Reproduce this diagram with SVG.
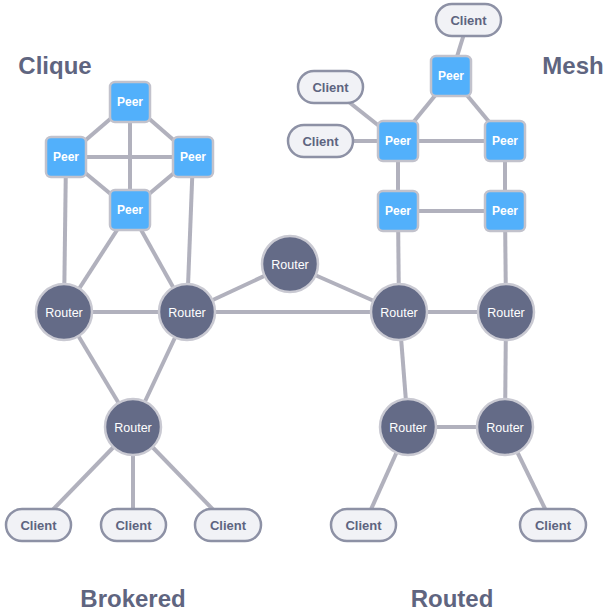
<svg xmlns="http://www.w3.org/2000/svg" width="605" height="613" viewBox="0 0 605 613">
<style>
.e{stroke:#b1b1bd;stroke-width:4;fill:none}
.peer rect{fill:#52b0fb;stroke:#c2c2cc;stroke-width:2.5}
.peer text{fill:#fff;font:bold 12px "Liberation Sans",Arial,sans-serif;text-anchor:middle}
.router circle{fill:#646b87;stroke:#c9c9d2;stroke-width:2.5}
.router text{fill:#fff;font:12.5px "Liberation Sans",Arial,sans-serif;text-anchor:middle}
.client rect{fill:#f1f2f6;stroke:#8d91a5;stroke-width:2.5}
.client text{fill:#5d6480;font:bold 13px "Liberation Sans",Arial,sans-serif;text-anchor:middle}
.title{fill:#5f6580;font:bold 24px "Liberation Sans",Arial,sans-serif;text-anchor:middle}
</style>
<rect width="605" height="613" fill="#fff"/>
<g id="connectors">
<line class="e" x1="130" y1="102" x2="66" y2="157"/>
<line class="e" x1="130" y1="102" x2="193" y2="157"/>
<line class="e" x1="130" y1="102" x2="130" y2="210"/>
<line class="e" x1="66" y1="157" x2="193" y2="157"/>
<line class="e" x1="66" y1="157" x2="130" y2="210"/>
<line class="e" x1="193" y1="157" x2="130" y2="210"/>
<line class="e" x1="66" y1="157" x2="64" y2="312"/>
<line class="e" x1="193" y1="157" x2="187" y2="312"/>
<line class="e" x1="130" y1="210" x2="64" y2="312"/>
<line class="e" x1="130" y1="210" x2="187" y2="312"/>
<line class="e" x1="64" y1="312" x2="187" y2="312"/>
<line class="e" x1="64" y1="312" x2="133" y2="427"/>
<line class="e" x1="187" y1="312" x2="133" y2="427"/>
<line class="e" x1="187" y1="312" x2="290" y2="264"/>
<line class="e" x1="187" y1="312" x2="399" y2="312"/>
<line class="e" x1="290" y1="264" x2="399" y2="312"/>
<line class="e" x1="133" y1="427" x2="38" y2="525"/>
<line class="e" x1="133" y1="427" x2="133" y2="525"/>
<line class="e" x1="133" y1="427" x2="228" y2="525"/>
<line class="e" x1="399" y1="312" x2="506" y2="312"/>
<line class="e" x1="399" y1="312" x2="398" y2="211"/>
<line class="e" x1="506" y1="312" x2="505" y2="211"/>
<line class="e" x1="399" y1="312" x2="408" y2="427"/>
<line class="e" x1="506" y1="312" x2="505" y2="427"/>
<line class="e" x1="408" y1="427" x2="505" y2="427"/>
<line class="e" x1="408" y1="427" x2="364" y2="525"/>
<line class="e" x1="505" y1="427" x2="553" y2="525"/>
<line class="e" x1="468" y1="21" x2="451" y2="76"/>
<line class="e" x1="451" y1="76" x2="398" y2="141"/>
<line class="e" x1="451" y1="76" x2="505" y2="141"/>
<line class="e" x1="398" y1="141" x2="505" y2="141"/>
<line class="e" x1="398" y1="141" x2="398" y2="211"/>
<line class="e" x1="505" y1="141" x2="505" y2="211"/>
<line class="e" x1="398" y1="211" x2="505" y2="211"/>
<line class="e" x1="398" y1="141" x2="330" y2="87"/>
<line class="e" x1="398" y1="141" x2="320" y2="141"/>
</g>
<g id="peer-c-top" class="peer"><rect x="110" y="82" width="40" height="40" rx="5"/><text x="130" y="106">Peer</text></g>
<g id="peer-c-left" class="peer"><rect x="46" y="137" width="40" height="40" rx="5"/><text x="66" y="161">Peer</text></g>
<g id="peer-c-right" class="peer"><rect x="173" y="137" width="40" height="40" rx="5"/><text x="193" y="161">Peer</text></g>
<g id="peer-c-bottom" class="peer"><rect x="110" y="190" width="40" height="40" rx="5"/><text x="130" y="214">Peer</text></g>
<g id="peer-m-top" class="peer"><rect x="431" y="56" width="40" height="40" rx="5"/><text x="451" y="80">Peer</text></g>
<g id="peer-m-left" class="peer"><rect x="378" y="121" width="40" height="40" rx="5"/><text x="398" y="145">Peer</text></g>
<g id="peer-m-right" class="peer"><rect x="485" y="121" width="40" height="40" rx="5"/><text x="505" y="145">Peer</text></g>
<g id="peer-m-bl" class="peer"><rect x="378" y="191" width="40" height="40" rx="5"/><text x="398" y="215">Peer</text></g>
<g id="peer-m-br" class="peer"><rect x="485" y="191" width="40" height="40" rx="5"/><text x="505" y="215">Peer</text></g>
<g id="router-1" class="router"><circle cx="64" cy="312" r="28"/><text x="64" y="316.5">Router</text></g>
<g id="router-2" class="router"><circle cx="187" cy="312" r="28"/><text x="187" y="316.5">Router</text></g>
<g id="router-3" class="router"><circle cx="290" cy="264" r="28"/><text x="290" y="268.5">Router</text></g>
<g id="router-4" class="router"><circle cx="399" cy="312" r="28"/><text x="399" y="316.5">Router</text></g>
<g id="router-5" class="router"><circle cx="506" cy="312" r="28"/><text x="506" y="316.5">Router</text></g>
<g id="router-b" class="router"><circle cx="133" cy="427" r="28"/><text x="133" y="431.5">Router</text></g>
<g id="router-r1" class="router"><circle cx="408" cy="427" r="28"/><text x="408" y="431.5">Router</text></g>
<g id="router-r2" class="router"><circle cx="505" cy="427" r="28"/><text x="505" y="431.5">Router</text></g>
<g id="client-b1" class="client"><rect x="6" y="509" width="65" height="32" rx="16"/><text x="38.5" y="530">Client</text></g>
<g id="client-b2" class="client"><rect x="101" y="509" width="65" height="32" rx="16"/><text x="133.5" y="530">Client</text></g>
<g id="client-b3" class="client"><rect x="195" y="509" width="66" height="32" rx="16"/><text x="228" y="530">Client</text></g>
<g id="client-r1" class="client"><rect x="331" y="509" width="65" height="32" rx="16"/><text x="363.5" y="530">Client</text></g>
<g id="client-r2" class="client"><rect x="520" y="509" width="66" height="32" rx="16"/><text x="553" y="530">Client</text></g>
<g id="client-m1" class="client"><rect x="436" y="4" width="65" height="32" rx="16"/><text x="468.5" y="25">Client</text></g>
<g id="client-m2" class="client"><rect x="298" y="71" width="65" height="32" rx="16"/><text x="330.5" y="92">Client</text></g>
<g id="client-m3" class="client"><rect x="288" y="125" width="65" height="32" rx="16"/><text x="320.5" y="146">Client</text></g>
<text class="title" x="55" y="74">Clique</text>
<text class="title" x="573" y="74">Mesh</text>
<text class="title" x="133" y="607">Brokered</text>
<text class="title" x="452" y="607">Routed</text>
</svg>
